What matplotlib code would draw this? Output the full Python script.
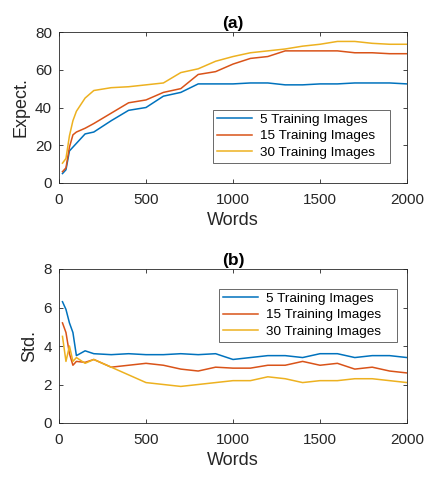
import matplotlib
matplotlib.use("Agg")
import matplotlib.pyplot as plt

plt.rcParams["font.family"] = ["Liberation Sans", "DejaVu Sans"]

words = [20, 40, 60, 80, 100, 150, 200, 300, 400, 500, 600, 700, 800, 900,
         1000, 1100, 1200, 1300, 1400, 1500, 1600, 1700, 1800, 1900, 2000]

expect_5 = [5, 7, 17, 19, 21, 26, 27, 33, 38.5, 40, 46, 48, 52.5, 52.5,
            52.5, 53, 53, 52, 52, 52.5, 52.5, 53, 53, 53, 52.5]
expect_15 = [6, 8, 19, 25.5, 27, 29, 31.5, 37, 42.5, 44, 48, 50, 57.5, 59,
             63, 66, 67, 70, 70, 70, 70, 69, 69, 68.5, 68.5]
expect_30 = [10.5, 13, 25, 33, 38, 45, 49, 50.5, 51, 52, 53, 58.5, 60.5, 64.5,
             67, 69, 70, 71, 72.5, 73.5, 75, 75, 74, 73.5, 73.5]

std_5 = [6.3, 5.9, 5.2, 4.7, 3.5, 3.75, 3.6, 3.55, 3.6, 3.55, 3.55, 3.6, 3.55, 3.6,
         3.3, 3.4, 3.5, 3.5, 3.4, 3.6, 3.6, 3.4, 3.5, 3.5, 3.4]
std_15 = [5.2, 4.7, 3.6, 3.0, 3.2, 3.15, 3.3, 2.9, 3.0, 3.1, 3.0, 2.8, 2.7, 2.9,
          2.85, 2.85, 3.0, 3.0, 3.2, 3.0, 3.1, 2.8, 2.9, 2.7, 2.6]
std_30 = [4.5, 3.2, 4.0, 3.2, 3.4, 3.1, 3.3, 2.9, 2.5, 2.1, 2.0, 1.9, 2.0, 2.1,
          2.2, 2.2, 2.4, 2.3, 2.1, 2.2, 2.2, 2.3, 2.3, 2.2, 2.1]

labels = ["5 Training Images", "15 Training Images", "30 Training Images"]
colors = ["#0072BD", "#D95319", "#EDB120"]
axcol = "#262626"

fig = plt.figure(figsize=(4.26, 4.79), dpi=100)
W, H = 426, 479
ax_a = fig.add_axes([59 / W, 1 - 183 / H, 348 / W, 151 / H])
ax_b = fig.add_axes([59 / W, 1 - 423 / H, 348 / W, 154 / H])

panels = [
    (ax_a, [expect_5, expect_15, expect_30], "Expect.", "(a)", 80, [0, 20, 40, 60, 80],
     (213 / W, 1 - 163 / H, 177 / W, 66 / H)),
    (ax_b, [std_5, std_15, std_30], "Std.", "(b)", 8, [0, 2, 4, 6, 8],
     (219 / W, 1 - 342 / H, 178 / W, 65 / H)),
]

for ax, series, ylab, title, ymax, yticks, legbox in panels:
    for ys, c, lab in zip(series, colors, labels):
        ax.plot(words, ys, color=c, lw=1.1, label=lab)
    ax.set_xlim(0, 2000)
    ax.set_ylim(0, ymax)
    ax.set_xticks([0, 500, 1000, 1500, 2000])
    ax.set_yticks(yticks)
    ax.tick_params(direction="in", top=True, right=True, length=3,
                   labelsize=11, colors=axcol, width=0.6)
    ax.tick_params(axis="x", pad=7)
    ax.tick_params(axis="y", pad=5)
    for s in ax.spines.values():
        s.set_color(axcol)
        s.set_linewidth(0.6)
    ax.set_xlabel("Words", fontsize=13, color=axcol, labelpad=4)
    ax.set_ylabel(ylab, fontsize=13, color=axcol, labelpad=4)
    ax.set_title(title, fontsize=12.5, fontweight="bold", pad=3)
    leg = ax.legend(loc="lower left", bbox_to_anchor=legbox,
                    bbox_transform=fig.transFigure, mode="expand",
                    fontsize=9.7, frameon=True, fancybox=False,
                    handlelength=2.6, handletextpad=0.6, borderaxespad=0,
                    labelspacing=0.3, borderpad=0.3)
    leg.get_frame().set_edgecolor(axcol)
    leg.get_frame().set_linewidth(0.6)

fig.savefig("out.png", dpi=100)
